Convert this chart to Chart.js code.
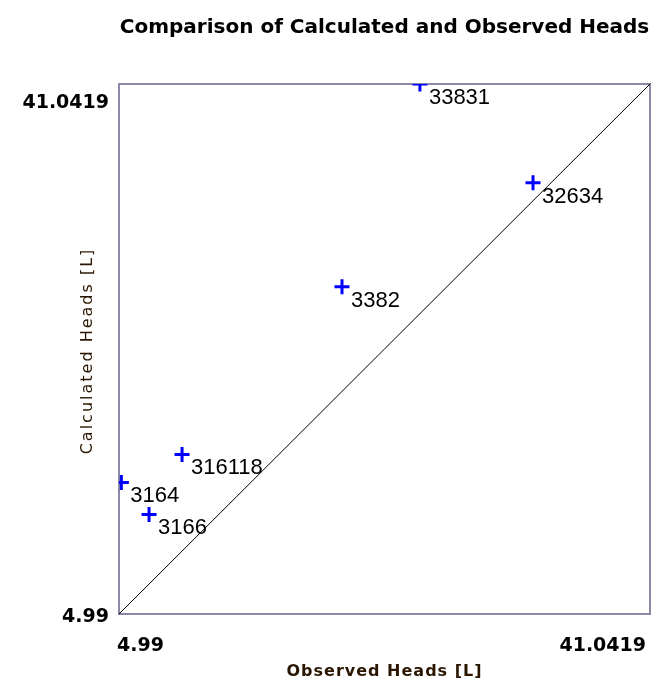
<!DOCTYPE html>
<html>
<head>
<meta charset="utf-8">
<script src="https://cdn.jsdelivr.net/npm/chart.js@4/dist/chart.umd.min.js"></script>
<style>
html,body{margin:0;padding:0;background:#fff;}
#c{display:block;}
</style>
</head>
<body>
<canvas id="c" width="656" height="684"></canvas>
<script>
const wellNames = ['33831', '32634', '3382', '316118', '3164', '3166'];
const observedHeads = [25.42, 33.10, 20.13, 9.27, 5.15, 7.03];
const calculatedHeads = [41.0419, 34.32, 27.25, 15.84, 13.94, 11.76];
const axisMin = 4.99;
const axisMax = 41.0419;
const tickLabels = ['4.99', '41.0419'];
const chartTitle = 'Comparison of Calculated and Observed Heads';
const xTitle = 'Observed Heads [L]';
const yTitle = 'Calculated Heads [L]';

const decor = {
  id: 'decor',
  beforeDatasetsDraw(chart) {
    const ctx = chart.ctx, a = chart.chartArea;
    ctx.save();
    ctx.strokeStyle = '#8a8aa8';
    ctx.lineWidth = 2;
    ctx.strokeRect(a.left, a.top, a.right - a.left, a.bottom - a.top);
    ctx.restore();
  },
  afterDatasetsDraw(chart) {
    const ctx = chart.ctx, a = chart.chartArea;
    const xs = chart.scales.x, ys = chart.scales.y;
    ctx.save();
    // point labels
    const meta = chart.getDatasetMeta(0);
    ctx.fillStyle = '#000';
    ctx.font = '22px "Liberation Sans", Arial, sans-serif';
    ctx.textAlign = 'left';
    ctx.textBaseline = 'alphabetic';
    meta.data.forEach((el, i) => {
      ctx.fillText(wellNames[i], el.x + 9, el.y + 20);
    });
    // title
    const cx = (a.left + a.right) / 2;
    ctx.fillStyle = '#000';
    ctx.font = 'bold 20px "DejaVu Sans", sans-serif';
    ctx.textAlign = 'center';
    ctx.textBaseline = 'middle';
    ctx.fillText(chartTitle, cx, 28);
    // tick labels
    ctx.font = 'bold 19px "DejaVu Sans", sans-serif';
    ctx.textAlign = 'right';
    ctx.fillText(tickLabels[1], a.left - 10, ys.getPixelForValue(axisMax) + 19);
    ctx.fillText(tickLabels[0], a.left - 10, ys.getPixelForValue(axisMin) + 3);
    ctx.textAlign = 'left';
    ctx.fillText(tickLabels[0], xs.getPixelForValue(axisMin) - 2, a.bottom + 32);
    ctx.textAlign = 'right';
    ctx.fillText(tickLabels[1], xs.getPixelForValue(axisMax) - 4, a.bottom + 32);
    // axis titles
    ctx.fillStyle = '#2a1600';
    ctx.font = 'bold 16px "DejaVu Sans", sans-serif';
    ctx.textAlign = 'center';
    try { ctx.letterSpacing = '1px'; } catch (e) {}
    ctx.fillText(xTitle, cx, a.bottom + 58);
    ctx.save();
    ctx.translate(a.left - 31, (a.top + a.bottom) / 2 + 2);
    ctx.rotate(-Math.PI / 2);
    ctx.font = '16px "DejaVu Sans", sans-serif';
    try { ctx.letterSpacing = '2px'; } catch (e) {}
    ctx.fillText(yTitle, 0, 0);
    ctx.restore();
    ctx.restore();
  }
};

new Chart(document.getElementById('c'), {
  type: 'scatter',
  data: {
    datasets: [
      {
        label: 'Wells',
        data: observedHeads.map((v, i) => ({ x: v, y: calculatedHeads[i] })),
        pointStyle: 'cross',
        pointRadius: 7.5,
        pointHoverRadius: 7.5,
        borderColor: '#0000ff',
        backgroundColor: '#0000ff',
        pointBorderWidth: 3,
        showLine: false
      },
      {
        label: '1:1',
        data: [{ x: axisMin, y: axisMin }, { x: axisMax, y: axisMax }],
        showLine: true,
        borderColor: '#000',
        borderWidth: 1,
        pointRadius: 0,
        pointHoverRadius: 0
      }
    ]
  },
  options: {
    responsive: false,
    animation: false,
    events: [],
    layout: { autoPadding: false, padding: { left: 119, top: 84, right: 6, bottom: 70 } },
    plugins: { legend: { display: false }, title: { display: false }, tooltip: { enabled: false } },
    scales: {
      x: { type: 'linear', min: axisMin, max: axisMax, display: false },
      y: { type: 'linear', min: axisMin, max: axisMax, display: false }
    }
  },
  plugins: [decor]
});
</script>
</body>
</html>
